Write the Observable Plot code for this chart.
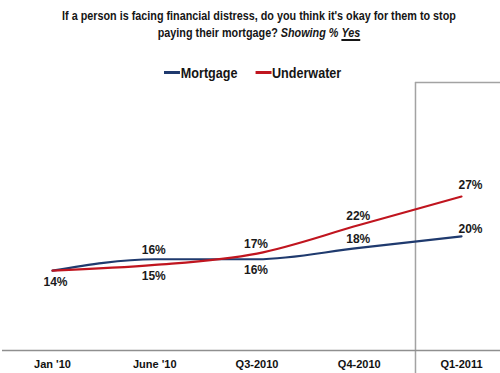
<!DOCTYPE html>
<html><head><meta charset="utf-8">
<script src="https://cdn.jsdelivr.net/npm/d3@7"></script>
<script src="https://cdn.jsdelivr.net/npm/@observablehq/plot@0.6"></script>
<style>
body{margin:0;background:#fff;font-family:"Liberation Sans",Arial,sans-serif;}
#wrap{width:500px;height:373px;position:relative;overflow:hidden;background:#fff}
#title{position:absolute;left:9px;top:7px;width:500px;text-align:center;font-weight:bold;font-size:13.5px;line-height:17px;color:#151515;transform:scaleX(0.8);transform-origin:250px 0}
#title u{text-decoration-thickness:1.5px;text-underline-offset:2px}
#legend{position:absolute;top:64px;left:164px;display:flex;align-items:center;font-weight:bold;font-size:15px;color:#151515;white-space:nowrap;transform:scaleX(0.84);transform-origin:0 0}
#legend .sw{display:inline-block;width:19px;height:2.5px;margin-right:1px}
#legend .item{display:flex;align-items:center;margin-right:21px}
#chart{position:absolute;top:80px;left:0}
</style></head>
<body><div id="wrap">
<div id="title">If a person is facing financial distress, do you think it's okay for them to stop<br>paying their mortgage? <i>Showing %</i> <i><u>Yes</u></i></div>
<div id="legend"></div>
<div id="chart"></div>
</div>
<script>
const categories = ["Jan '10", "June '10", "Q3-2010", "Q4-2010", "Q1-2011"];
const mortgage = [14, 16, 16, 18, 20];
const underwater = [14, 15, 17, 22, 27];
const seriesNames = ["Mortgage", "Underwater"];
const seriesColors = ["#1f3a6e", "#c0151f"];
const yearBreak = 3.55; // boundary between 2010 and 2011 periods (category index)

const seriesValues = [mortgage, underwater];
const rows = [];
seriesNames.forEach((s, k) => seriesValues[k].forEach((v, i) => rows.push({i, cat: categories[i], series: s, value: v})));

// label placement groups: "below", "above", "endHigh", "endLow"
const labels = [];
categories.forEach((c, i) => {
  const m = mortgage[i], u = underwater[i];
  const last = i === categories.length - 1;
  if (m === u) { labels.push({i, value: m, text: m + "%", pos: "first"}); return; }
  const hi = Math.max(m, u), lo = Math.min(m, u);
  if (last) {
    labels.push({i, value: hi, text: hi + "%", pos: "endHigh"});
    labels.push({i, value: lo, text: lo + "%", pos: "endLow"});
  } else {
    labels.push({i, value: hi, text: hi + "%", pos: "above"});
    labels.push({i, value: lo, text: lo + "%", pos: hi - lo < 3 ? "below" : "above"});
  }
});
const offsets = {first: [3, 11], above: [-1, -9], below: [-1, 11], endHigh: [9, -11], endLow: [9, -7]};

// legend
const lg = document.getElementById("legend");
seriesNames.forEach((s, k) => {
  const it = document.createElement("div"); it.className = "item";
  it.innerHTML = `<span class="sw" style="background:${seriesColors[k]}"></span><span>${s}</span>`;
  lg.appendChild(it);
});

const labelMarks = Object.entries(offsets).map(([pos, [dx, dy]]) =>
  Plot.text(labels.filter(d => d.pos === pos), {x: "i", y: "value", text: "text", dx, dy, fontSize: 12, fontWeight: "bold", fill: "#1a1a1a"}));

const chart = Plot.plot({
  width: 500, height: 293,
  marginLeft: 2, marginRight: 0, marginTop: 2, marginBottom: 23,
  style: {fontFamily: '"Liberation Sans",Arial,sans-serif', background: "transparent", overflow: "visible"},
  x: {type: "linear", domain: [0, 4], range: [52, 461]},
  y: {domain: [0, 47], axis: null},
  color: {domain: seriesNames, range: seriesColors},
  marks: [
    Plot.ruleX([yearBreak], {stroke: "#a3a3a3", strokeWidth: 1.5, insetBottom: -23}),
    Plot.ruleY([47], {x1: yearBreak, x2: 4.5, stroke: "#a3a3a3", strokeWidth: 1.5}),
    Plot.ruleY([0], {stroke: "#8f8f8f", strokeWidth: 1.3}),
    Plot.axisX({ticks: categories.map((_, i) => i), tickFormat: i => categories[i], tickSize: 0, tickPadding: 10, fontSize: 11, fontWeight: "bold", fill: "#111", label: null}),
    Plot.line(rows, {x: "i", y: "value", z: "series", stroke: "series", curve: "monotone-x", strokeWidth: 2.2}),
    ...labelMarks
  ]
});
document.getElementById("chart").appendChild(chart);
</script>
</body></html>
